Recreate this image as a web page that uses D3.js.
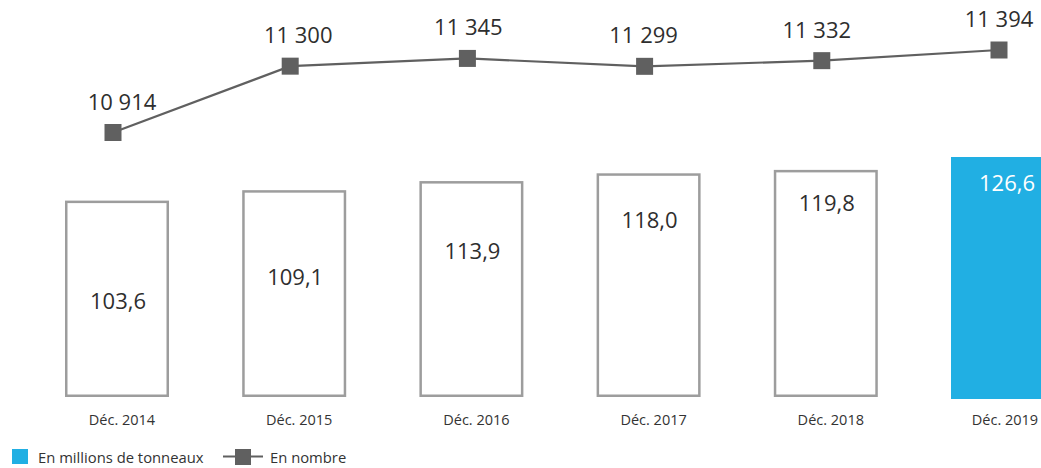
<!DOCTYPE html>
<html>
<head>
<meta charset="utf-8">
<script src="https://cdn.jsdelivr.net/npm/d3@7"></script>
<style>
  body { margin: 0; background: #fff; }
  svg { display: block; font-family: "Open Sans", sans-serif; }
  .val { font-size: 22px; fill: #2e2e2e; }
  .cat { font-size: 14.5px; fill: #333; }
  .leg { font-size: 14.8px; fill: #333; }
</style>
</head>
<body>
<svg id="chart"></svg>
<script>
const categories = ['Déc. 2014', 'Déc. 2015', 'Déc. 2016', 'Déc. 2017', 'Déc. 2018', 'Déc. 2019'];
const tonnage = [103.6, 109.1, 113.9, 118.0, 119.8, 126.6];
const tonnageLabels = ['103,6', '109,1', '113,9', '118,0', '119,8', '126,6'];
const count = [10914, 11300, 11345, 11299, 11332, 11394];
const countLabels = ['10 914', '11 300', '11 345', '11 299', '11 332', '11 394'];

// where the value labels sit inside each bar (px below the bar top)
const barLabelDy = [108, 95, 78, 55, 41, 34];
const lineLabelDx = [9, 8, 1, -1, -5, 0];

const width = 1041, height = 468;
const blue = '#21afe3', grey = '#606060', outline = '#9d9d9d';

const svg = d3.select('#chart')
    .attr('width', width)
    .attr('height', height);

const x = d3.scalePoint()
    .domain(categories)
    .range([117, 1003]);

const barW = 104;

const y = d3.scaleLinear()
    .domain([0, 126.6])
    .range([397, 157]);

const yLine = d3.scaleLinear()
    .domain([10914, 11394])
    .range([132.5, 50]);

const sw = 2.5;
const last = categories.length - 1;

// bars
svg.append('g').selectAll('rect')
    .data(tonnage)
  .enter().append('rect')
    .attr('x', (d, i) => i === last ? x(categories[i]) - barW / 2 : x(categories[i]) - barW / 2 + sw / 2)
    .attr('y', (d, i) => i === last ? y(d) : y(d) + sw / 2)
    .attr('width', (d, i) => i === last ? barW : barW - sw)
    .attr('height', (d, i) => i === last ? y(0) - y(d) + 2 : y(0) - y(d) - sw)
    .attr('fill', (d, i) => i === last ? blue : '#fff')
    .attr('stroke', (d, i) => i === last ? 'none' : outline)
    .attr('stroke-width', sw);

svg.append('g').selectAll('text')
    .data(tonnage)
  .enter().append('text')
    .attr('class', 'val')
    .attr('x', (d, i) => x(categories[i]) + (i === last ? 4 : 1))
    .attr('y', (d, i) => y(d) + barLabelDy[i])
    .attr('text-anchor', 'middle')
    .style('fill', (d, i) => i === last ? '#fff' : null)
    .text((d, i) => tonnageLabels[i]);

// category labels
svg.append('g').selectAll('text')
    .data(categories)
  .enter().append('text')
    .attr('class', 'cat')
    .attr('x', d => Math.min(x(d) + 5, width - 36))
    .attr('y', 425)
    .attr('text-anchor', 'middle')
    .text(d => d);

// line
const mx = i => x(categories[i]) - 4;
const line = d3.line()
    .x((d, i) => mx(i))
    .y(d => yLine(d));

svg.append('path')
    .datum(count)
    .attr('d', line)
    .attr('fill', 'none')
    .attr('stroke', grey)
    .attr('stroke-width', 2.2);

svg.append('g').selectAll('rect')
    .data(count)
  .enter().append('rect')
    .attr('x', (d, i) => mx(i) - 8.5)
    .attr('y', d => yLine(d) - 8.5)
    .attr('width', 17)
    .attr('height', 17)
    .attr('fill', grey);

svg.append('g').selectAll('text')
    .data(count)
  .enter().append('text')
    .attr('class', 'val')
    .attr('x', (d, i) => mx(i) + lineLabelDx[i])
    .attr('y', d => yLine(d) - 23)
    .attr('text-anchor', 'middle')
    .text((d, i) => countLabels[i])
    .each(function () {
      const t = d3.select(this);
      const w = this.getComputedTextLength();
      const cx = +t.attr('x');
      if (cx + w / 2 > width - 4) t.attr('x', width - 4 - w / 2);
    });

// legend
const leg = svg.append('g');
leg.append('rect')
    .attr('x', 12).attr('y', 449)
    .attr('width', 16).attr('height', 15)
    .attr('fill', blue);
leg.append('text')
    .attr('class', 'leg')
    .attr('x', 38).attr('y', 463)
    .text('En millions de tonneaux');
leg.append('line')
    .attr('x1', 223).attr('x2', 263)
    .attr('y1', 456.5).attr('y2', 456.5)
    .attr('stroke', grey)
    .attr('stroke-width', 2.2);
leg.append('rect')
    .attr('x', 235).attr('y', 449)
    .attr('width', 16).attr('height', 16)
    .attr('fill', grey);
leg.append('text')
    .attr('class', 'leg')
    .attr('x', 270).attr('y', 463)
    .text('En nombre');
</script>
</body>
</html>
